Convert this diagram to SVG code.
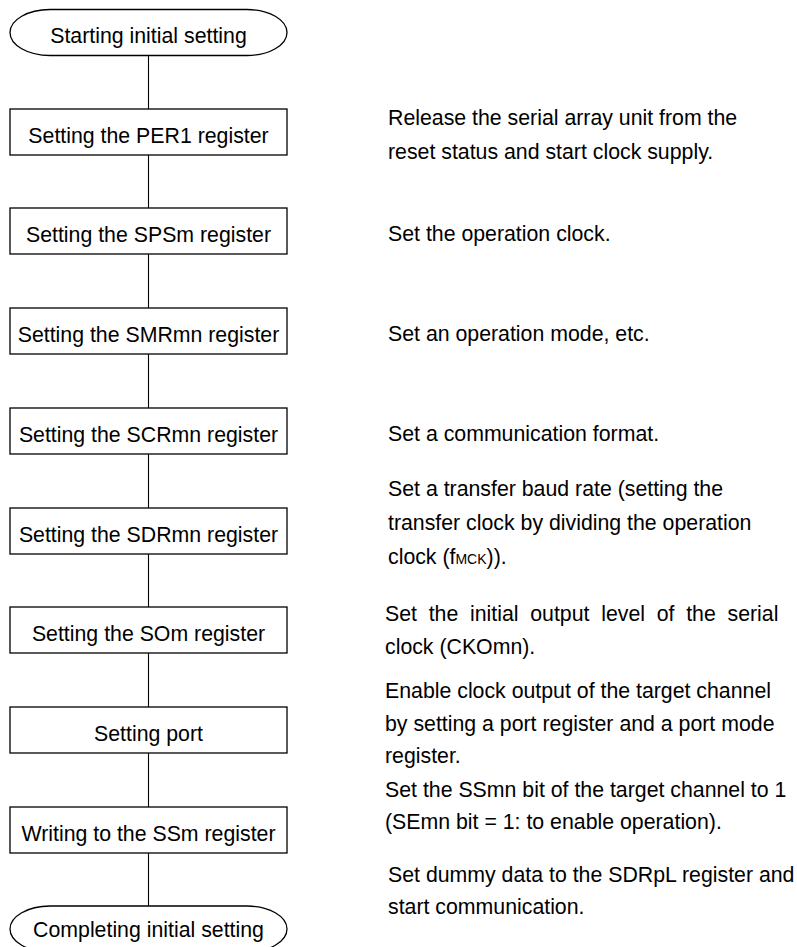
<svg xmlns="http://www.w3.org/2000/svg" width="797" height="947" viewBox="0 0 797 947">
<style>
.shape{fill:#fff;stroke:#000;stroke-width:1.3}
.conn{stroke:#000;stroke-width:1.1;fill:none}
.lbl{font-family:"Liberation Sans",Arial,sans-serif;font-size:21.3px;fill:#000;text-anchor:middle}
.note{font-family:"Liberation Sans",Arial,sans-serif;font-size:21.3px;fill:#000}
.sub{font-size:14px}
</style>
<rect width="797" height="947" fill="#fff"/>
<g id="connectors">
<line class="conn" x1="148.5" y1="55.5" x2="148.5" y2="109"/>
<line class="conn" x1="148.5" y1="155" x2="148.5" y2="208"/>
<line class="conn" x1="148.5" y1="254" x2="148.5" y2="308"/>
<line class="conn" x1="148.5" y1="354" x2="148.5" y2="408"/>
<line class="conn" x1="148.5" y1="454" x2="148.5" y2="508"/>
<line class="conn" x1="148.5" y1="554" x2="148.5" y2="607"/>
<line class="conn" x1="148.5" y1="653" x2="148.5" y2="707"/>
<line class="conn" x1="148.5" y1="753" x2="148.5" y2="807"/>
<line class="conn" x1="148.5" y1="853" x2="148.5" y2="906"/>
</g>
<g id="start">
<rect class="shape" x="10" y="9.5" width="277" height="46" rx="40" ry="23"/>
<text class="lbl" x="148.5" y="43">Starting initial setting</text>
</g>
<g id="per1">
<rect class="shape" x="10" y="109" width="277" height="46"/>
<text class="lbl" x="148.5" y="142.5">Setting the PER1 register</text>
</g>
<g id="spsm">
<rect class="shape" x="10" y="208" width="277" height="46"/>
<text class="lbl" x="148.5" y="241.5">Setting the SPSm register</text>
</g>
<g id="smrmn">
<rect class="shape" x="10" y="308" width="277" height="46"/>
<text class="lbl" x="148.5" y="341.5">Setting the SMRmn register</text>
</g>
<g id="scrmn">
<rect class="shape" x="10" y="408" width="277" height="46"/>
<text class="lbl" x="148.5" y="441.5">Setting the SCRmn register</text>
</g>
<g id="sdrmn">
<rect class="shape" x="10" y="508" width="277" height="46"/>
<text class="lbl" x="148.5" y="541.5">Setting the SDRmn register</text>
</g>
<g id="som">
<rect class="shape" x="10" y="607" width="277" height="46"/>
<text class="lbl" x="148.5" y="640.5">Setting the SOm register</text>
</g>
<g id="port">
<rect class="shape" x="10" y="707" width="277" height="46"/>
<text class="lbl" x="148.5" y="740.5">Setting port</text>
</g>
<g id="ssm">
<rect class="shape" x="10" y="807" width="277" height="46"/>
<text class="lbl" x="148.5" y="840.5">Writing to the SSm register</text>
</g>
<g id="end">
<rect class="shape" x="10" y="906" width="277" height="46" rx="40" ry="23"/>
<text class="lbl" x="148.5" y="936.5">Completing initial setting</text>
</g>
<g id="notes">
<text class="note" x="388" y="125">Release the serial array unit from the</text>
<text class="note" x="388" y="159">reset status and start clock supply.</text>
<text class="note" x="388" y="241">Set the operation clock.</text>
<text class="note" x="388" y="341">Set an operation mode, etc.</text>
<text class="note" x="388" y="441">Set a communication format.</text>
<text class="note" x="388" y="496">Set a transfer baud rate (setting the</text>
<text class="note" x="388" y="530">transfer clock by dividing the operation</text>
<text class="note" x="388" y="564">clock (f<tspan class="sub">MCK</tspan>)).</text>
<text class="note" x="385" y="621" word-spacing="5.8">Set the initial output level of the serial</text>
<text class="note" x="385" y="654">clock (CKOmn).</text>
<text class="note" x="385" y="698">Enable clock output of the target channel</text>
<text class="note" x="385" y="731">by setting a port register and a port mode</text>
<text class="note" x="385" y="763">register.</text>
<text class="note" x="385" y="797">Set the SSmn bit of the target channel to 1</text>
<text class="note" x="385" y="829">(SEmn bit = 1: to enable operation).</text>
<text class="note" x="388" y="882">Set dummy data to the SDRpL register and</text>
<text class="note" x="388" y="914">start communication.</text>
</g>
</svg>
